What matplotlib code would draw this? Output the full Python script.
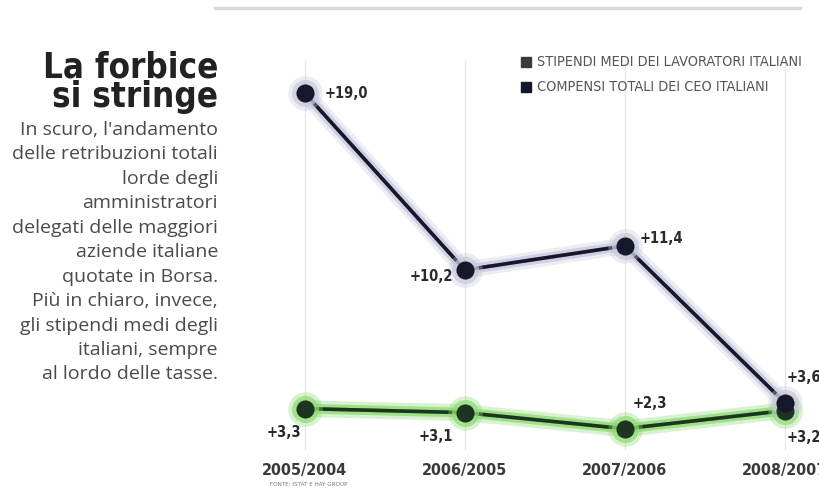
import matplotlib
matplotlib.use("Agg")
import matplotlib.pyplot as plt
import matplotlib.patheffects as pe

# data
periods = ["2005/2004", "2006/2005", "2007/2006", "2008/2007"]
ceo_pay = [19.0, 10.2, 11.4, 3.6]
worker_pay = [3.3, 3.1, 2.3, 3.2]
ceo_labels = ["+19,0", "+10,2", "+11,4", "+3,6"]
worker_labels = ["+3,3", "+3,1", "+2,3", "+3,2"]
legend_names = ["STIPENDI MEDI DEI LAVORATORI ITALIANI",
                "COMPENSI TOTALI DEI CEO ITALIANI"]

title = "La forbice\nsi stringe"
body = ("In scuro, l'andamento\ndelle retribuzioni totali\nlorde degli\namministratori\n"
        "delegati delle maggiori\naziende italiane\nquotate in Borsa.\n"
        "Più in chiaro, invece,\ngli stipendi medi degli\nitaliani, sempre\nal lordo delle tasse.")
source = "FONTE: ISTAT E HAY GROUP"

COND = dict(family="DejaVu Sans", stretch="condensed")

ceo_line = "#15172a"
ceo_glow = "#c9c9de"
wk_line = "#1d3520"
wk_glow = "#8fdc74"

fig = plt.figure(figsize=(8.2, 4.92), dpi=100)
W, H = 820, 492
ax = fig.add_axes([260 / W, (H - 450) / H, (820 - 260) / W, (450 - 60) / H])

x = list(range(len(periods)))
# axis limits chosen so the marks land where they sit in the reference
ax.set_xlim(-0.28, 3.22)
ax.set_ylim(1.24, 20.65)

for xi in x:
    ax.axvline(xi, color="#e6e6e6", lw=0.9, zorder=0)

def draw_series(vals, line_c, glow_c):
    ax.plot(x, vals, color=line_c, lw=2.6, zorder=3,
            path_effects=[pe.withStroke(linewidth=12, foreground=glow_c, alpha=0.35),
                          pe.withStroke(linewidth=7, foreground=glow_c, alpha=0.8)])
    ax.scatter(x, vals, s=620, color=glow_c, alpha=0.35, zorder=4, lw=0)
    ax.scatter(x, vals, s=380, color=glow_c, alpha=0.7, zorder=4, lw=0)
    ax.scatter(x, vals, s=170, color=line_c, zorder=5, lw=0)

draw_series(worker_pay, wk_line, wk_glow)
draw_series(ceo_pay, ceo_line, ceo_glow)

ceo_off = [((20, 0), "left"), ((-12, -7), "right"), ((15, 7), "left"), ((2, 25), "left")]
wk_off = [((-4, -24), "right"), ((-12, -24), "right"), ((8, 25), "left"), ((2, -27), "left")]
for vals, labs, offs in [(ceo_pay, ceo_labels, ceo_off), (worker_pay, worker_labels, wk_off)]:
    for xi, v, lab, (off, ha) in zip(x, vals, labs, offs):
        ax.annotate(lab, (xi, v), xytext=off, textcoords="offset pixels",
                    ha=ha, va="center", fontsize=10.5, fontweight="bold",
                    color="#2a2a2a", zorder=6, annotation_clip=False, **COND)

for s in ax.spines.values():
    s.set_visible(False)
ax.set_yticks([])
ax.set_xticks(x)
ax.set_xticklabels(periods, fontsize=11.5, fontweight="bold", color="#3a3a3a", **COND)
ax.tick_params(axis="x", length=0, pad=9)

# legend
for i, (name, col) in enumerate(zip(legend_names, ["#3a3a3a", ceo_line])):
    yy = (H - 62 - 25 * i) / H
    fig.patches.append(plt.Rectangle((521 / W, yy - 5 / H), 10 / W, 10 / H,
                                     transform=fig.transFigure, color=col))
    fig.text(537 / W, yy, name, fontsize=10.4, color="#555555", va="center", **COND)

# header rule at the top
fig.add_artist(plt.Line2D([215 / W, 800 / W], [(H - 8) / H] * 2,
                          transform=fig.transFigure, color="#d8d8d8", lw=2.5))

fig.text(218 / W, (H - 50) / H, title, ha="right", va="top", fontsize=25,
         fontweight="bold", color="#222222", linespacing=0.85, **COND)
fig.text(218 / W, (H - 121) / H, body, ha="right", va="top", fontsize=14,
         family=["Open Sans", "DejaVu Sans"], color="#4a4a4a", linespacing=1.46)
fig.text(270 / W, (H - 484) / H, source, fontsize=4.5, color="#777777",
         va="center", **COND)

fig.savefig("out.png", dpi=100)
